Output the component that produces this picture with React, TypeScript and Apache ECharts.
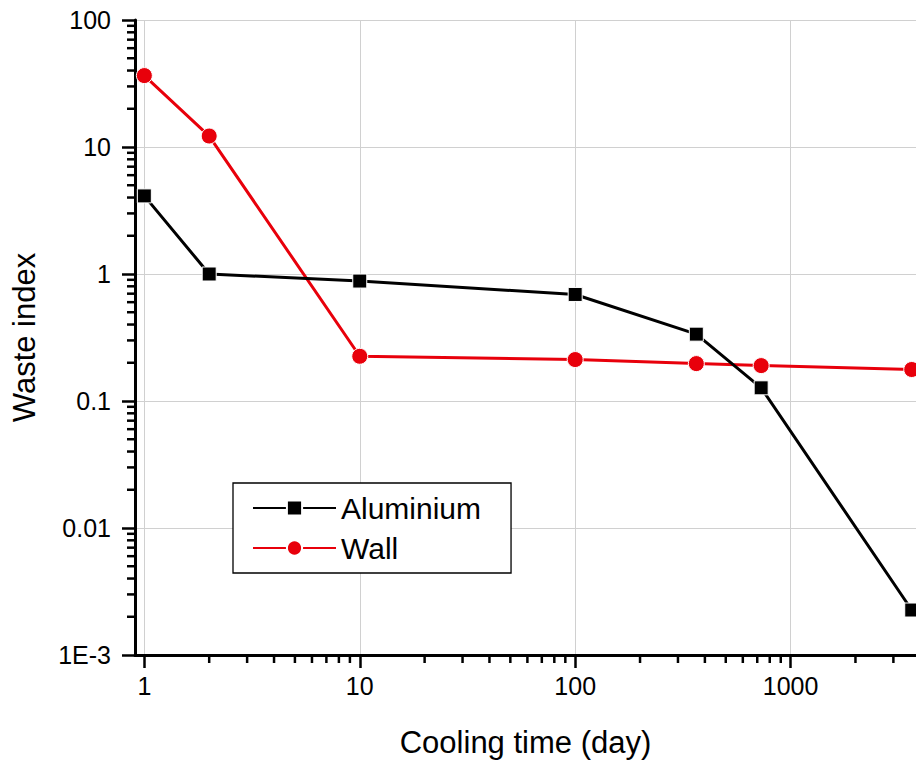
import React, { useEffect, useRef } from "react";
import * as echarts from "echarts";

const coolingDays = [1, 2, 10, 100, 365, 730, 3650];
const aluminium = [4.12, 1.0, 0.88, 0.69, 0.336, 0.127, 0.00226];
const wall = [36.5, 12.2, 0.225, 0.212, 0.197, 0.19, 0.177];
const seriesNames = ["Aluminium", "Wall"];
const xMinorTicks = [2, 3, 4, 5, 6, 7, 8, 9, 20, 30, 40, 50, 60, 70, 80, 90, 200, 300, 400, 500, 600, 700, 800, 900, 2000, 3000];
const yMinorTicks = [
  0.002, 0.003, 0.004, 0.005, 0.006, 0.007, 0.008, 0.009,
  0.02, 0.03, 0.04, 0.05, 0.06, 0.07, 0.08, 0.09,
  0.2, 0.3, 0.4, 0.5, 0.6, 0.7, 0.8, 0.9,
  2, 3, 4, 5, 6, 7, 8, 9,
  20, 30, 40, 50, 60, 70, 80, 90,
];

const FONT = "'Liberation Sans', Arial, sans-serif";

export default function App() {
  const ref = useRef<HTMLDivElement>(null);
  useEffect(() => {
    if (!ref.current) return;
    const chart = echarts.init(ref.current, null, { renderer: "svg" });
    const xMin = 0.905;
    const xMax = 3820;
    chart.setOption({
      animation: false,
      backgroundColor: "#fff",
      grid: { left: 135, top: 20, right: 0, bottom: 102, containLabel: false },
      legend: {
        data: seriesNames,
        orient: "vertical",
        left: 233,
        top: 483,
        padding: [10, 30, 10, 19],
        itemGap: 10,
        itemWidth: 83,
        itemHeight: 19,
        borderColor: "#000",
        borderWidth: 1.3,
        backgroundColor: "#fff",
        textStyle: { fontFamily: FONT, fontSize: 30, color: "#000" },
      },
      xAxis: {
        type: "log",
        logBase: 10,
        min: xMin,
        max: xMax,
        splitNumber: 4,
        name: "Cooling time (day)",
        nameLocation: "middle",
        nameGap: 72,
        nameTextStyle: { fontFamily: FONT, fontSize: 31, color: "#000" },
        axisLine: { show: true, lineStyle: { color: "#000", width: 3 } },
        axisTick: { show: true, inside: false, length: 13, lineStyle: { color: "#000", width: 2.5 } },
        axisLabel: {
          showMinLabel: false,
          showMaxLabel: false,
          margin: 18,
          fontFamily: FONT,
          fontSize: 25,
          color: "#000",
          formatter: (v: number) => String(Math.round(v)),
        },
        splitLine: { show: true, lineStyle: { color: "#d0d0d0", width: 1 } },
      },
      yAxis: {
        type: "log",
        logBase: 10,
        min: 0.001,
        max: 100,
        splitNumber: 5,
        name: "Waste index",
        nameLocation: "middle",
        nameGap: 95,
        nameTextStyle: { fontFamily: FONT, fontSize: 31, color: "#000" },
        axisLine: { show: true, lineStyle: { color: "#000", width: 3 } },
        axisTick: { show: true, inside: false, length: 13, lineStyle: { color: "#000", width: 2.5 } },
        axisLabel: {
          margin: 24,
          fontFamily: FONT,
          fontSize: 25,
          color: "#000",
          formatter: (v: number) => {
            if (v < 0.0015) return "1E-3";
            if (v >= 1) return String(Math.round(v));
            return String(parseFloat(v.toPrecision(3)));
          },
        },
        splitLine: { show: true, lineStyle: { color: "#d0d0d0", width: 1 } },
      },
      series: [
        {
          name: "Aluminium",
          type: "line",
          data: coolingDays.map((d, i) => [d, aluminium[i]]),
          symbol: "rect",
          symbolSize: 14,
          color: "#000",
          lineStyle: { color: "#000", width: 3 },
          itemStyle: { color: "#000", borderColor: "#fff", borderWidth: 1 },
          z: 3,
        },
        {
          name: "Wall",
          type: "line",
          data: coolingDays.map((d, i) => [d, wall[i]]),
          symbol: "circle",
          symbolSize: 16,
          color: "#e8000b",
          lineStyle: { color: "#e8000b", width: 3 },
          itemStyle: { color: "#e8000b", borderColor: "#fff", borderWidth: 1 },
          z: 2,
        },
        {
          name: "xMinor",
          type: "custom",
          silent: true,
          clip: false,
          data: xMinorTicks.map((v) => [v, 1]),
          renderItem: (params: any, api: any) => {
            const cs = params.coordSys;
            const p = api.coord([api.value(0), 1]);
            const y0 = cs.y + cs.height;
            return {
              type: "line",
              shape: { x1: p[0], y1: y0, x2: p[0], y2: y0 + 8 },
              style: { stroke: "#000", lineWidth: 2.5 },
            };
          },
        },
        {
          name: "yMinor",
          type: "custom",
          silent: true,
          clip: false,
          data: yMinorTicks.map((v) => [1, v]),
          renderItem: (params: any, api: any) => {
            const cs = params.coordSys;
            const p = api.coord([1, api.value(1)]);
            const x0 = cs.x;
            return {
              type: "line",
              shape: { x1: x0, y1: p[1], x2: x0 - 8, y2: p[1] },
              style: { stroke: "#000", lineWidth: 2.5 },
            };
          },
        },
      ],
    });
    return () => chart.dispose();
  }, []);
  return <div ref={ref} style={{ width: 916, height: 763, position: "absolute", left: 0, top: 0 }} />;
}
